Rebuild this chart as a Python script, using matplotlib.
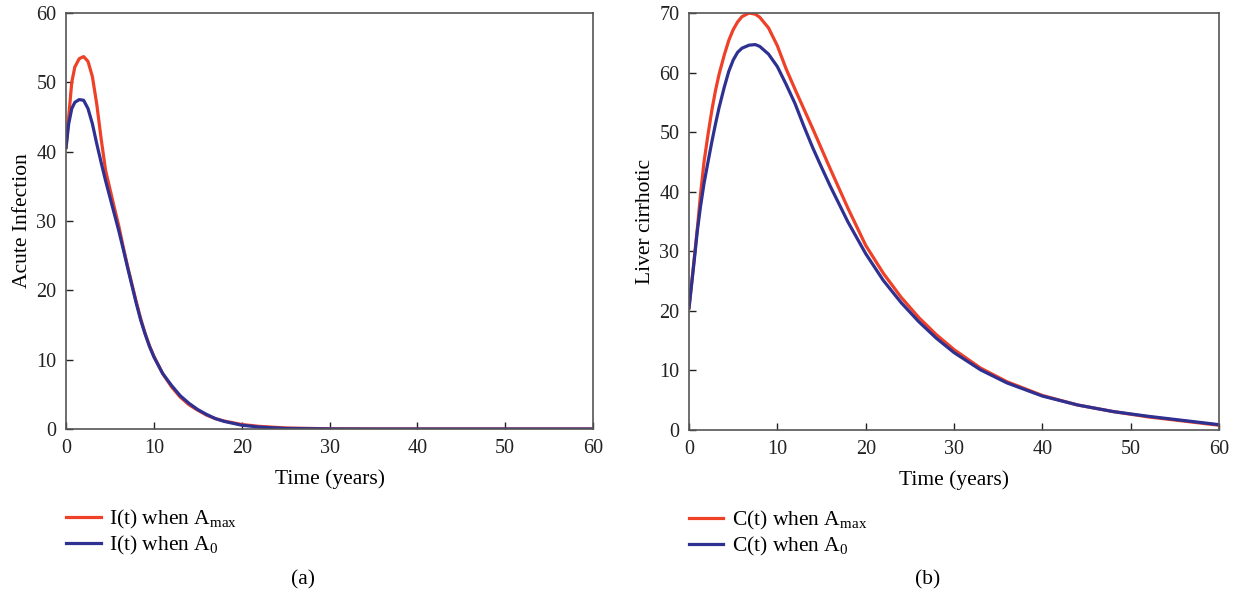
import matplotlib
matplotlib.use("Agg")
import matplotlib.pyplot as plt

plt.rcParams['font.family'] = ['Liberation Serif', 'DejaVu Serif']
plt.rcParams['mathtext.fontset'] = 'custom'
plt.rcParams['mathtext.rm'] = 'Liberation Serif'
plt.rcParams['mathtext.it'] = 'Liberation Serif:italic'

# (a) acute infection I(t)
t_i = [0, 0.3, 0.65, 1, 1.5, 2, 2.5, 3, 3.5, 4, 4.5, 5, 5.5, 6, 6.5, 7, 7.5, 8,
       8.5, 9, 9.5, 10, 11, 12, 13, 14, 15, 16, 17, 18, 20, 22, 25, 30, 35, 40,
       50, 60]
i_amax = [40.6, 45, 50, 52.2, 53.4, 53.7, 53, 50.8, 46.8, 41.8, 37.3, 34.6, 31.9,
          29.3, 26.3, 23.5, 20.9, 18.3, 15.9, 13.8, 12.0, 10.5, 8.0, 6.1, 4.6,
          3.5, 2.7, 2.0, 1.5, 1.15, 0.65, 0.38, 0.15, 0.03, 0, 0, 0, 0]
i_a0 = [40.6, 44.0, 46.2, 47.1, 47.5, 47.4, 46.2, 44.0, 41.1, 38.4, 35.8, 33.4,
        31.0, 28.6, 26.0, 23.3, 20.7, 18.1, 15.7, 13.7, 11.9, 10.4, 8.0, 6.3,
        4.8, 3.7, 2.8, 2.1, 1.5, 1.1, 0.55, 0.28, 0.08, 0.01, 0, 0, 0, 0]

# (b) liver cirrhotic C(t)
t_c = [0, 0.5, 0.94, 1.3, 1.7, 2.15, 2.6, 3, 3.4, 4, 4.5, 5, 5.5, 6, 6.8, 7.5, 8,
       9, 10, 11, 12, 13, 14, 15, 16, 18, 20, 22, 24, 26, 28, 30, 33, 36, 40, 44,
       48, 52, 56, 60]
c_amax = [20.5, 27.5, 33.8, 39.5, 45.0, 49.6, 53.8, 57.0, 59.7, 63.0, 65.4, 67.2,
          68.5, 69.4, 70.0, 69.8, 69.3, 67.5, 64.5, 60.6, 57.2, 53.9, 50.6, 47.2,
          43.8, 37.2, 31.0, 26.3, 22.3, 18.9, 16.0, 13.5, 10.4, 8.1, 5.8, 4.2,
          3.1, 2.2, 1.5, 0.8]
c_a0 = [20.5, 27.2, 33.4, 37.5, 41.4, 45.0, 48.5, 51.4, 54.1, 57.6, 60.2, 62.1,
        63.4, 64.1, 64.6, 64.7, 64.4, 63.1, 61.0, 58.0, 54.8, 51.0, 47.4, 44.1,
        40.9, 34.9, 29.6, 25.1, 21.4, 18.2, 15.4, 13.0, 10.1, 7.9, 5.7, 4.2,
        3.1, 2.3, 1.6, 0.9]

red = '#ee4127'
blue = '#2e3192'

fig = plt.figure(figsize=(12.37, 5.97), dpi=100)
ax1 = fig.add_axes([0.0534, 0.2814, 0.426, 0.697])
ax2 = fig.add_axes([0.557, 0.2797, 0.4285, 0.6985])

panels = [
    (ax1, t_i, i_amax, i_a0, 'I', 'Acute Infection', 60, '(a)', 303),
    (ax2, t_c, c_amax, c_a0, 'C', 'Liver cirrhotic', 70, '(b)', 928),
]

for ax, t, ymax_s, y0_s, name, ylab, ytop, tag, tag_x in panels:
    ax.plot(t, ymax_s, color=red, lw=2.3, label=name + r'(t) when A$_{\mathrm{max}}$')
    ax.plot(t, y0_s, color=blue, lw=2.3, label=name + r'(t) when A$_{0}$')
    ax.set_xlim(0, 60)
    ax.set_ylim(0, ytop)
    ax.set_xticks(range(0, 61, 10))
    ax.set_yticks(range(0, ytop + 1, 10))
    ax.tick_params(direction='in', length=5, width=1, labelsize=14.5, colors='#222222',
                   top=False, right=False)
    ax.tick_params(axis='y', pad=7)
    ax.tick_params(axis='x', pad=7)
    for s in ax.spines.values():
        s.set_color('#555555')
        s.set_linewidth(1.2)
    ax.set_xlabel('Time (years)', fontsize=15.5, labelpad=8)
    ax.set_ylabel(ylab, fontsize=15.5, labelpad=3)
    ax.legend(loc='upper left', bbox_to_anchor=(0.0, -0.19), frameon=False,
              fontsize=15.5, handlelength=1.6, handletextpad=0.4, labelspacing=0.12,
              borderaxespad=0, borderpad=0)
    fig.text(tag_x / 1237, 1 - 580 / 597, tag, fontsize=15.5,
             ha='center', va='center')

fig.savefig('out.png', dpi=100)
